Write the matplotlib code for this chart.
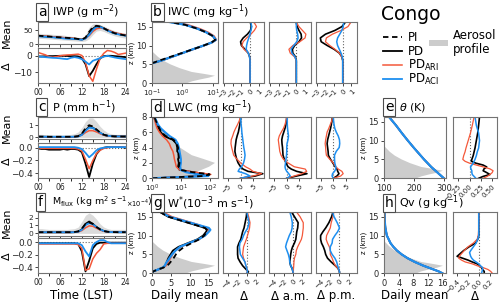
import numpy as np
import matplotlib.pyplot as plt
import matplotlib.transforms as mtransforms
from matplotlib.patches import Polygon, Rectangle
from matplotlib.lines import Line2D

# ---------------- data ----------------
hours = np.arange(25)

# IWP (g m-2)
iwp_lo = [22, 21, 20, 19, 18, 17, 16, 15, 14, 13, 12, 11, 10, 12, 20, 35, 48, 50, 46, 40, 35, 30, 27, 24, 22]
iwp_hi = [40, 39, 38, 37, 36, 35, 34, 33, 31, 29, 27, 25, 23, 35, 62, 74, 75, 72, 66, 60, 54, 49, 45, 42, 40]
iwp_pi = [31, 30, 29, 28, 27, 26, 25, 24, 23, 22, 21, 19, 17, 24, 45, 62, 67, 64, 58, 51, 45, 40, 37, 34, 32]
iwp_pd = [30, 29, 28, 27, 26, 25, 24, 23, 22, 21, 20, 19, 17, 22, 38, 56, 66, 64, 58, 51, 45, 40, 37, 34, 32]
iwp_ari = [32, 30, 29, 28, 27, 26, 25, 24, 23, 22, 21, 19, 17, 21, 31, 46, 56, 59, 57, 52, 47, 42, 39, 36, 34]
iwp_aci = [29, 28, 27, 26, 25, 24, 23, 21, 20, 20, 19, 18, 16, 21, 34, 52, 63, 63, 57, 50, 44, 39, 36, 33, 31]
d_iwp_pd = [-0.4, -0.4, -0.3, -0.2, -0.2, -0.1, 0, 0, -0.1, -0.2, -0.2, -0.4, -1.5, -5, -12.2, -9, -5, -1.5, -0.2, 0, 0, -0.2, -0.4, -0.6, -0.8]
d_iwp_ari = [2, 1.3, 0.6, -0.5, -0.8, -0.5, 0, 0.3, 0.5, 0.6, 0.8, 1, 0.2, -4, -12, -15.3, -8, -1.5, 1.5, 3.2, 2.8, 2, 0.8, 1.2, 1.6]
d_iwp_aci = [-0.4, -0.6, -0.8, -1, -1.2, -1.3, -1.5, -1.8, -2, -1.2, -0.8, -1.2, -2, -3.5, -5.2, -3, -2.2, -1.4, -0.5, 0, -0.5, -1, -1.4, -1.7, -2]

# P (mm h-1)
p_lo = [0] * 25
p_hi = [0.25, 0.25, 0.22, 0.2, 0.2, 0.2, 0.2, 0.2, 0.22, 0.25, 0.3, 0.45, 0.8, 1.3, 1.6, 1.6, 1.3, 0.9, 0.6, 0.4, 0.3, 0.25, 0.25, 0.25, 0.25]
p_pi = [0.06, 0.06, 0.06, 0.05, 0.05, 0.05, 0.05, 0.05, 0.05, 0.05, 0.06, 0.1, 0.3, 0.75, 1.0, 0.9, 0.65, 0.4, 0.22, 0.14, 0.1, 0.08, 0.08, 0.07, 0.07]
p_pd = [0.06, 0.05, 0.05, 0.04, 0.04, 0.04, 0.04, 0.04, 0.04, 0.04, 0.05, 0.09, 0.25, 0.6, 0.85, 0.8, 0.6, 0.37, 0.2, 0.13, 0.1, 0.08, 0.08, 0.07, 0.07]
p_ari = [0.06, 0.05, 0.05, 0.05, 0.05, 0.05, 0.05, 0.05, 0.05, 0.05, 0.05, 0.08, 0.18, 0.4, 0.55, 0.55, 0.45, 0.3, 0.18, 0.12, 0.1, 0.08, 0.08, 0.07, 0.07]
p_aci = [0.05, 0.05, 0.05, 0.05, 0.05, 0.05, 0.05, 0.05, 0.05, 0.05, 0.05, 0.07, 0.2, 0.55, 0.8, 0.78, 0.6, 0.38, 0.21, 0.14, 0.1, 0.08, 0.08, 0.07, 0.07]
d_p_pd = [-0.01, -0.02, -0.02, -0.03, -0.03, -0.03, -0.03, -0.02, -0.03, -0.02, -0.02, -0.03, -0.07, -0.25, -0.46, -0.25, -0.1, -0.03, 0, 0.01, 0.01, 0.01, 0.01, 0.01, 0]
d_p_ari = [0, -0.01, -0.01, -0.01, -0.01, -0.01, -0.01, -0.01, -0.01, -0.01, -0.01, -0.02, -0.05, -0.18, -0.33, -0.2, -0.09, -0.04, -0.01, 0, 0.01, 0.01, 0.01, 0.01, 0.01]
d_p_aci = [0.01, 0.01, 0.01, 0.01, 0.01, 0.01, 0.01, 0.01, 0.01, 0.01, 0.01, 0, -0.02, -0.08, -0.15, -0.1, -0.04, -0.01, 0, 0.01, 0.01, 0.01, 0.01, 0.01, 0.01]

# Mflux (kg m2 s-1 x10-4)
m_lo = [0] * 25
m_hi = [0.6, 0.6, 0.55, 0.5, 0.5, 0.5, 0.5, 0.5, 0.5, 0.55, 0.6, 0.8, 1.5, 2.3, 2.6, 2.3, 1.8, 1.2, 0.8, 0.6, 0.5, 0.5, 0.5, 0.5, 0.5]
m_pi = [0.15, 0.15, 0.15, 0.15, 0.15, 0.15, 0.15, 0.15, 0.15, 0.15, 0.17, 0.25, 0.6, 1.2, 1.4, 1.2, 0.8, 0.5, 0.3, 0.2, 0.17, 0.16, 0.15, 0.15, 0.15]
m_pd = [0.13, 0.13, 0.13, 0.13, 0.13, 0.13, 0.13, 0.13, 0.13, 0.13, 0.15, 0.22, 0.5, 1.2, 1.5, 1.2, 0.8, 0.5, 0.3, 0.2, 0.16, 0.15, 0.14, 0.14, 0.14]
m_ari = [0.13, 0.13, 0.13, 0.13, 0.13, 0.13, 0.13, 0.13, 0.13, 0.13, 0.14, 0.18, 0.35, 0.7, 0.95, 0.9, 0.65, 0.42, 0.27, 0.19, 0.16, 0.15, 0.14, 0.14, 0.14]
m_aci = [0.14, 0.14, 0.14, 0.14, 0.14, 0.14, 0.14, 0.14, 0.14, 0.14, 0.15, 0.2, 0.45, 1.05, 1.3, 1.15, 0.8, 0.5, 0.3, 0.2, 0.16, 0.15, 0.15, 0.15, 0.15]
d_m_pd = [-0.02, -0.02, -0.02, -0.02, -0.02, -0.02, -0.02, -0.02, -0.02, -0.02, -0.02, -0.03, -0.15, -0.47, -0.3, -0.1, -0.03, -0.01, -0.01, -0.01, -0.01, -0.01, -0.01, -0.01, -0.01]
d_m_ari = [-0.03, -0.03, -0.03, -0.03, -0.03, -0.03, -0.03, -0.03, -0.03, -0.03, -0.03, -0.04, -0.1, -0.45, -0.43, -0.27, -0.18, -0.12, -0.03, -0.02, -0.02, -0.02, -0.02, -0.02, -0.02]
d_m_aci = [-0.02, -0.02, -0.02, -0.02, -0.02, -0.02, -0.02, -0.02, -0.02, -0.02, -0.02, -0.02, -0.05, -0.15, -0.23, -0.05, 0.0, 0.03, 0.03, 0.0, -0.02, -0.02, -0.02, -0.02, -0.02]

# aerosol profile (fraction of panel width)
aer_z = [0, 0.5, 1, 1.5, 2, 2.5, 3, 4, 5, 6, 7, 8, 8.5]
aer_frac = [0.52, 0.6, 0.72, 0.86, 0.95, 0.78, 0.6, 0.42, 0.28, 0.17, 0.09, 0.03, 0]

# IWC (mg kg-1)
z_iwc = [5.3, 6, 7, 8, 9, 10, 10.8, 11.5, 12.5, 13.5, 14.5, 15.5, 16.2]
iwc_pi = [0.1, 0.17, 0.4, 0.95, 2.2, 5, 9, 12, 10, 6, 3, 1.2, 0.4]
iwc_pd = [0.1, 0.2, 0.45, 1.0, 2.2, 5, 9, 12, 10, 6, 3, 1.2, 0.4]
iwc_ari = [0.1, 0.2, 0.45, 1.0, 2.3, 5.2, 9.5, 13, 11, 7, 3.6, 1.5, 0.5]
iwc_aci = [0.1, 0.2, 0.45, 1.0, 2.2, 5, 9.2, 12.5, 10, 6, 3, 1.2, 0.38]
zd_iwc = [0, 5, 6, 7, 8, 9, 10, 11, 12, 13, 14, 15, 16, 16.3]
d_iwc_pd = [0, 0, 0, -0.05, -0.2, -0.6, -1.0, -1.1, -0.8, -0.3, 0.05, 0.15, 0.05, 0]
d_iwc_ari = [0, 0, 0, -0.05, -0.2, -0.7, -0.95, -0.8, -0.4, 0.1, 0.5, 0.75, 0.5, 0.1]
d_iwc_aci = [0, 0, 0, -0.05, -0.2, -0.45, -0.4, -0.3, -0.15, 0, 0.1, 0.2, 0.1, 0]
am_iwc_pd = [0, 0, 0, -0.1, -0.4, -0.45, -0.2, 0.3, 0.6, 0.55, 0.3, 0.1, 0, 0]
am_iwc_ari = [0, 0, 0, -0.2, -0.7, -0.85, -0.4, 0.4, 1.0, 1.1, 0.7, 0.3, 0.05, 0]
am_iwc_aci = [0, 0, 0, -0.15, -0.5, -0.6, -0.3, 0.05, 0.2, 0.15, 0.05, 0, 0, 0]
pm_iwc_pd = [0, 0, 0, -0.1, -0.4, -1.0, -1.8, -2.5, -2.6, -2.0, -0.9, -0.1, 0.25, 0.1]
pm_iwc_ari = [0, 0, 0, -0.1, -0.4, -0.9, -1.5, -2.0, -1.9, -1.2, -0.2, 0.6, 0.9, 0.4]
pm_iwc_aci = [0, 0, 0, -0.05, -0.2, -0.4, -0.6, -0.7, -0.6, -0.35, -0.1, 0.05, 0.1, 0]

# LWC (mg kg-1)
z_lwc = [0, 0.3, 0.5, 0.8, 1.1, 1.5, 2, 2.5, 3, 3.5, 4, 4.5, 5, 5.5, 6, 6.5, 7, 7.5, 8]
lwc_pi = [1, 60, 100, 25, 9.5, 8.5, 9, 8.5, 8.3, 8, 8, 7.2, 5.6, 3, 2.1, 1.8, 1.55, 1.35, 1.2]
lwc_pd = [1, 60, 100, 25, 9, 8, 8.5, 8, 9.5, 7.5, 7.5, 7, 5.2, 2.6, 2.0, 1.7, 1.5, 1.3, 1.15]
lwc_ari = [1, 50, 110, 30, 9, 7, 6.5, 6, 5.7, 5.3, 4.5, 4.0, 3.2, 2.3, 1.8, 1.5, 1.35, 1.25, 1.15]
lwc_aci = [1, 90, 40, 15, 10, 9.5, 10, 10, 9.5, 9, 8.5, 7.8, 6.5, 4, 2.8, 2.0, 1.6, 1.4, 1.2]
zd_lwc = [0, 0.3, 0.6, 0.9, 1.2, 1.5, 2, 2.5, 3, 3.5, 4, 4.5, 5, 5.5, 6, 6.5, 7, 7.5, 8]
d_lwc_pd = [0, 6, 9, 3, 1, 0, -1, -1.6, -2.0, -2.3, -2.2, -2.0, -1.8, -1.4, -0.9, -0.6, -0.3, -0.1, 0]
d_lwc_ari = [0, 5, 8.5, 5, 3.8, 2, 0, -1.5, -2.8, -3.2, -3.6, -3.9, -3.8, -3.2, -2.7, -2, -1.2, -0.5, 0]
d_lwc_aci = [0, 3.8, 2, -1, -0.5, 0.4, 1.2, 1.6, 1.8, 1.6, 1.3, 1.1, 0.9, 0.7, 0.5, 0.4, 0.2, 0.1, 0]
am_lwc_pd = [0, 4, 8.1, 4, 1.8, 0.5, -0.3, -1.0, -1.5, -1.6, -1.7, -1.9, -2.0, -1.7, -1.2, -0.7, -0.3, -0.1, 0]
am_lwc_ari = [0, 3, 6, 8, 7.4, 3, 0.5, -1.4, -2.3, -2.8, -3, -3.2, -3.4, -3, -2.2, -1.3, -0.7, -0.3, 0]
am_lwc_aci = [0, 1.4, 0.8, 0, -0.5, -0.7, -0.5, -0.3, -0.1, 0, 0, 0.1, 0.5, 0.7, 0.5, 0.3, 0.2, 0.2, 0.2]
pm_lwc_pd = [0, 1.5, 2.3, 1.8, 1.5, 0.8, -0.2, -1.2, -2.0, -2.1, -2.3, -2.5, -2.3, -1.9, -1.5, -1.1, -0.8, -0.5, -0.4]
pm_lwc_ari = [0, 3, 4, 3.5, 2, 1, 0, -1.5, -2.8, -3, -3.1, -3.3, -3.1, -2.8, -2.5, -1.8, -1.2, -0.6, -0.3]
pm_lwc_aci = [0, -0.5, -0.3, 0.5, 1, 1, 0.6, 0.5, 0.5, 1.2, 2.4, 2.6, 2.5, 2.0, 1.2, 0.6, 0.3, 0.1, 0]

# W* (1e-3 m s-1)
z_w = [0, 0.5, 1, 1.5, 2, 2.5, 3, 3.5, 4, 5, 6, 7, 8, 9, 10, 11, 11.5, 12, 13, 14, 15, 16, 16.5]
w_pi = [0, 0.3, 1.6, 3.0, 4.0, 4.5, 4.9, 5.3, 5.7, 6.3, 7.2, 8.5, 10.5, 12.5, 13.8, 14.4, 14.5, 14, 10.8, 7.5, 4.2, 2.5, 1.7]
w_pd = [0, 0.3, 1.6, 2.8, 3.5, 3.7, 3.9, 4.1, 4.3, 4.9, 5.5, 7, 9.5, 12, 13.5, 14.3, 14.5, 14, 10.8, 7.5, 4.2, 2.5, 1.7]
w_ari = [0, 0.3, 1.7, 3.0, 3.7, 4.0, 4.3, 4.6, 4.9, 5.4, 6.2, 7.6, 10, 12.5, 14, 14.8, 15, 14.6, 11.8, 8.5, 5.2, 3.3, 2.3]
w_aci = [0, 0.3, 1.6, 2.8, 3.4, 3.6, 3.9, 4.3, 4.6, 5.3, 6.2, 7.4, 9.8, 12.3, 14, 15, 15.4, 15, 11.5, 8, 4.5, 2.8, 1.8]
zd_w = [0, 0.4, 1.3, 2, 3, 4, 5, 6, 7, 8, 9, 10, 11, 12, 13.4, 15, 16.3]
d_w_pd = [0, 0.36, -0.36, -0.9, -1.45, -1.9, -2, -2, -2, -1.7, -1.3, -1.1, -0.9, -0.6, -0.36, -0.1, 0]
d_w_ari = [0, 0.1, 0, -0.2, -0.4, -0.7, -0.9, -0.8, -0.7, -0.4, -0.1, 0.15, 0.4, 0.6, 0.7, 0.4, 0.1]
d_w_aci = [0, 0.15, 0, -0.2, -0.4, -0.9, -1.4, -1.5, -1.6, -1.5, -1.0, -0.7, -0.3, 0.2, 0.5, 0.2, 0]
am_w_pd = [0, 0, -0.2, -0.5, -0.7, -0.6, -0.5, -0.36, -0.1, 0.3, 0.6, 0.7, 0.8, 1.0, 1.1, 0.3, -0.36]
am_w_ari = [0, 0, 0.1, 0.15, 0.2, 0.3, 0.6, 0.7, 1.0, 1.4, 1.8, 2.0, 2.1, 2.2, 2.2, 1.5, 0.7]
am_w_aci = [0, 0, -0.2, -0.5, -0.7, -0.8, -1.0, -1.3, -1.6, -1.4, -1.1, -0.8, -0.4, -0.2, -0.15, -0.4, -0.7]
pm_w_pd = [0, 0, -0.3, -0.9, -1.8, -2.6, -3.0, -3.2, -3.5, -3.9, -4.1, -4.1, -3.6, -3.0, -2.3, -1.7, -1.4]
pm_w_ari = [0, 0, -0.3, -0.9, -1.3, -1.6, -2.0, -2.0, -2.2, -2.6, -2.9, -2.8, -2.4, -2.0, -1.8, -1.4, -1.2]
pm_w_aci = [0, 0, -0.2, -0.4, -0.6, -1.0, -1.6, -2.0, -2.0, -1.6, -1.5, -1.0, -0.4, 0, -0.5, -1.2, -1.5]

# theta (K)
z_th = [0, 1, 2, 3, 4, 5, 6, 8, 10, 12, 14, 16.5]
th_pd = [298, 284, 270, 256, 244, 232, 221, 199, 178, 158, 139, 113]
zd_th = [0, 0.5, 1, 1.5, 2, 2.5, 3, 3.5, 4, 4.5, 5, 6, 7, 8, 10, 12, 14, 16.3]
d_th_pd = [0.2, 0.3, 0.45, 0.38, 0.3, 0.32, 0.38, 0.3, 0.14, 0.04, 0.05, 0.08, 0.1, 0.12, 0.15, 0.18, 0.2, 0.22]
d_th_ari = [0.3, 0.39, 0.45, 0.5, 0.52, 0.45, 0.31, 0.15, 0.0, -0.1, -0.15, -0.13, -0.1, -0.08, -0.03, 0.02, 0.06, 0.1]
d_th_aci = [0.14, 0.1, 0.06, 0.05, 0.05, 0.03, 0.02, 0.05, 0.08, 0.1, 0.12, 0.15, 0.17, 0.2, 0.22, 0.2, 0.15, 0.12]

# Qv (g kg-1)
z_q = [0, 0.5, 1, 1.5, 2, 2.5, 3, 4, 5, 6, 7, 8, 10, 12, 14, 16.5]
q_pd = [16, 15, 13.6, 12.2, 10.8, 9.6, 8.4, 6.4, 4.8, 3.5, 2.5, 1.7, 0.7, 0.3, 0.1, 0.05]
zd_q = [0, 0.5, 1, 1.5, 2, 2.5, 3, 3.5, 4, 4.5, 5, 5.5, 6, 7, 8, 9, 10, 12, 14, 16.3]
d_q_pd = [0.1, 0.1, 0.07, 0.05, 0.02, -0.03, -0.12, -0.2, -0.3, -0.4, -0.36, -0.32, -0.28, -0.18, -0.06, -0.02, 0, 0, 0, 0]
d_q_ari = [0.25, 0.22, 0.17, 0.08, -0.03, -0.12, -0.25, -0.32, -0.37, -0.36, -0.33, -0.3, -0.27, -0.2, -0.1, -0.03, -0.01, 0, 0, 0]
d_q_aci = [0.05, 0.06, 0.07, 0.07, 0.03, 0, -0.05, -0.1, -0.13, -0.15, -0.16, -0.17, -0.15, -0.1, -0.05, -0.02, 0, 0, 0, 0]

# ---------------- figure ----------------
W, H = 500, 305
fig = plt.figure(figsize=(5, 3.05), dpi=100)
red = '#f4583a'
blue = '#1e8ff0'
spc = '0.45'


def box(x0, y0, x1, y1):
    ax = fig.add_axes([x0 / W, 1 - y1 / H, (x1 - x0) / W, (y1 - y0) / H])
    for s in ax.spines.values():
        s.set_color(spc)
    ax.tick_params(length=2.5, width=0.6, pad=1.5, colors='0.15')
    return ax


def label(x, y, letter, title, size=8):
    fig.text(x / W, 1 - y / H, letter, fontsize=10, va='center', ha='left',
             bbox=dict(boxstyle='square,pad=0.12', fc='white', ec='0.3', lw=0.8))
    fig.text((x + 14) / W, 1 - y / H, title, fontsize=size, va='center', ha='left')


def time_row(top, lo, hi, pi, pd, ari, aci, dpd, dari, daci, mlim, mticks, dlim, dticks, dfmt=None, mh=22.5):
    ax = box(38, top, 125.7, top + mh)
    ax.fill_between(hours, lo, hi, color='0.86', lw=0)
    ax.plot(hours, pd, color='k', lw=1.3)
    ax.plot(hours, ari, color=red, lw=1.1)
    ax.plot(hours, aci, color=blue, lw=1.3)
    ax.plot(hours, pi, color='k', lw=1.3, ls=(0, (3, 2)))
    ax.set_xlim(0, 24)
    ax.set_ylim(*mlim)
    ax.set_yticks(mticks)
    ax.set_xticks([0, 6, 12, 18, 24])
    ax.set_xticks([3, 9, 15, 21], minor=True)
    ax.tick_params(axis='x', which='both', labelbottom=False, length=2)
    ax.tick_params(axis='y', labelsize=5.4, pad=1)
    ax2 = box(38, top + 26.6, 125.7, top + 61.6)
    ax2.axhline(0, color='0.4', ls=':', lw=0.8)
    ax2.plot(hours, dpd, color='k', lw=1.3)
    ax2.plot(hours, dari, color=red, lw=1.1)
    ax2.plot(hours, daci, color=blue, lw=1.3)
    ax2.set_xlim(0, 24)
    ax2.set_ylim(*dlim)
    ax2.set_yticks(dticks)
    if dfmt:
        ax2.set_yticklabels(dfmt)
    ax2.set_xticks([0, 6, 12, 18, 24])
    ax2.set_xticklabels(['00', '06', '12', '18', '24'])
    ax2.set_xticks([3, 9, 15, 21], minor=True)
    ax2.tick_params(axis='x', which='both', labelsize=5.5, length=2)
    ax2.tick_params(axis='y', labelsize=6.5)
    fig.text(7 / W, 1 - (top + 11) / H, 'Mean', rotation=90, fontsize=8, va='center', ha='center')
    fig.text(7 / W, 1 - (top + 44) / H, 'Δ', rotation=90, fontsize=8, va='center', ha='center')
    return ax2


def aerosol(ax):
    trans = mtransforms.blended_transform_factory(ax.transAxes, ax.transData)
    verts = np.column_stack([aer_frac + [0] * len(aer_z), aer_z + aer_z[::-1]])
    ax.add_patch(Polygon(verts, closed=True, transform=trans, fc='0.8', ec='none', zorder=0))


def mean_prof(x0, x1, top, z, pi, pd, ari, aci, xlim, ylim, yticks, log=False, xticks=None):
    ax = box(x0, top, x1, top + 61.6)
    if log:
        ax.set_xscale('log')
    aerosol(ax)
    ax.plot(pd, z, color='k', lw=1.3)
    ax.plot(ari, z, color=red, lw=1.1)
    ax.plot(aci, z, color=blue, lw=1.6)
    if pi is not None:
        ax.plot(pi, z, color='k', lw=1.3, ls=(0, (3, 2)))
    ax.set_xlim(*xlim)
    ax.set_ylim(*ylim)
    ax.set_yticks(yticks)
    if xticks is not None:
        ax.set_xticks(xticks)
    ax.minorticks_off()
    ax.tick_params(labelsize=6)
    if log:
        ax.tick_params(axis='x', labelsize=5.3, pad=1)
    ax.set_ylabel('z (km)', fontsize=5, labelpad=1)
    return ax


def delta_prof(x0, x1, top, z, dpd, dari, daci, xlim, xticks, ylim, xlabels=None):
    ax = box(x0, top, x1, top + 61.6)
    ax.axvline(0, color='0.4', ls=':', lw=0.8)
    ax.plot(dpd, z, color='k', lw=1.2)
    ax.plot(dari, z, color=red, lw=0.9)
    ax.plot(daci, z, color=blue, lw=1.1)
    ax.set_xlim(*xlim)
    ax.set_ylim(*ylim)
    ax.set_xticks(xticks)
    if xlabels:
        ax.set_xticklabels(xlabels)
    ax.set_yticks([])
    ax.tick_params(axis='x', labelsize=5, pad=1)
    for t in ax.get_xticklabels():
        t.set_rotation(45)
        t.set_ha('right')
        t.set_rotation_mode('anchor')
    return ax


cols = [(223.3, 264.3), (269.3, 310.7), (316, 357)]
rows = [21.7, 116.7, 211.7]

# time series column
time_row(rows[0], iwp_lo, iwp_hi, iwp_pi, iwp_pd, iwp_ari, iwp_aci, d_iwp_pd, d_iwp_ari, d_iwp_aci,
         (0, 82), [0, 50], (-16.5, 4.5), [-10, 0])
label(38, 12, 'a', r'IWP (g m$^{-2}$)')
time_row(rows[1], p_lo, p_hi, p_pi, p_pd, p_ari, p_aci, d_p_pd, d_p_ari, d_p_aci,
         (-0.15, 1.7), [0, 1], (-0.48, 0.07), [-0.4, -0.2, 0.0], ['−0.4', '−0.2', '0.0'])
label(38, 107, 'c', r'P (mm h$^{-1}$)')
time_row(rows[2], m_lo, m_hi, m_pi, m_pd, m_ari, m_aci, d_m_pd, d_m_ari, d_m_aci,
         (-0.3, 2.75), [0, 1, 2], (-0.5, 0.06), [-0.4, -0.2, 0.0], ['−0.4', '−0.2', '0.0'], mh=24)
label(38, 202, 'f', r'M$_{\rm flux}$ (kg m$^2$ s$^{-1}$$_{\times 10^{-4}}$)', size=6.8)

# IWC
mean_prof(152, 218.3, rows[0], z_iwc, iwc_pi, iwc_pd, iwc_ari, iwc_aci, (0.1, 15), (0, 16.3), [0, 5, 10, 15],
          log=True, xticks=[0.1, 1, 10])
label(153, 12, 'b', r'IWC (mg kg$^{-1}$)')
iwc_sets = [(d_iwc_pd, d_iwc_ari, d_iwc_aci), (am_iwc_pd, am_iwc_ari, am_iwc_aci), (pm_iwc_pd, pm_iwc_ari, pm_iwc_aci)]
for (x0, x1), s in zip(cols, iwc_sets):
    delta_prof(x0, x1, rows[0], zd_iwc, *s, (-3.1, 1.65), [-3, -2, -1, 0, 1], (0, 16.3),
               ['−3', '−2', '−1', '0', '1'])

# LWC
mean_prof(152, 218.3, rows[1], z_lwc, lwc_pi, lwc_pd, lwc_ari, lwc_aci, (1, 200), (0, 8), [0, 2, 4, 6, 8],
          log=True, xticks=[1, 10, 100])
label(153, 108, 'd', r'LWC (mg kg$^{-1}$)')
lwc_sets = [(d_lwc_pd, d_lwc_ari, d_lwc_aci), (am_lwc_pd, am_lwc_ari, am_lwc_aci), (pm_lwc_pd, pm_lwc_ari, pm_lwc_aci)]
for (x0, x1), s in zip(cols, lwc_sets):
    delta_prof(x0, x1, rows[1], zd_lwc, *s, (-7, 9.6), [-5, 0, 5], (0, 8), ['−5', '0', '5'])

# W*
mean_prof(152, 218.3, rows[2], z_w, w_pi, w_pd, w_ari, w_aci, (0, 17.5), (0, 16.3), [0, 5, 10, 15],
          xticks=[0, 5, 10, 15])
label(153, 203, 'g', r'W$^{*}$(10$^{-3}$ m s$^{-1}$)')
w_sets = [(d_w_pd, d_w_ari, d_w_aci), (am_w_pd, am_w_ari, am_w_aci), (pm_w_pd, pm_w_ari, pm_w_aci)]
for (x0, x1), s in zip(cols, w_sets):
    delta_prof(x0, x1, rows[2], zd_w, *s, (-5.1, 3.8), [-4, -2, 0, 2], (0, 16.3), ['−4', '−2', '0', '2'])

# theta
mean_prof(384.3, 446, rows[1], z_th, None, th_pd, th_pd, th_pd, (100, 305), (0, 16.3), [0, 5, 10, 15],
          xticks=[100, 200, 300])
label(385, 107, 'e', r'$\theta$ (K)')
delta_prof(453.3, 496.7, rows[1], zd_th, d_th_pd, d_th_ari, d_th_aci, (-0.36, 0.6), [-0.25, 0, 0.25, 0.5],
           (0, 16.3), ['−0.25', '0.00', '0.25', '0.50'])

# Qv
mean_prof(384.3, 446, rows[2], z_q, None, q_pd, q_pd, q_pd, (0, 17), (0, 16.3), [0, 5, 10, 15],
          xticks=[0, 4, 8, 12, 16])
label(385, 203, 'h', r'Qv (g kg$^{-1}$)')
delta_prof(453.3, 496.7, rows[2], zd_q, d_q_pd, d_q_ari, d_q_aci, (-0.47, 0.33), [-0.4, -0.2, 0, 0.2],
           (0, 16.3), ['−0.4', '−0.2', '0.0', '0.2'])

# bottom labels
for x, t in [(82, 'Time (LST)'), (185, 'Daily mean'), (244, 'Δ'), (290, 'Δ a.m.'), (336.5, 'Δ p.m.'),
             (415, 'Daily mean'), (475, 'Δ')]:
    fig.text(x / W, 1 - 296 / H, t, fontsize=8.5, ha='center', va='center')

# legend
fig.text(381 / W, 1 - 15 / H, 'Congo', fontsize=13.5, va='center', ha='left')
leg = [('PI', 'k', (0, (3, 2)), 1.3), ('PD', 'k', '-', 1.3),
       (r'PD$_{\rm ARI}$', red, '-', 1.1), (r'PD$_{\rm ACI}$', blue, '-', 1.3)]
for i, (t, c, ls, lw) in enumerate(leg):
    y = 1 - (37.3 + 14 * i) / H
    fig.add_artist(Line2D([383 / W, 402 / W], [y, y], color=c, ls=ls, lw=lw))
    fig.text(407.5 / W, y, t, fontsize=8.5, va='center', ha='left')
fig.add_artist(Rectangle((429 / W, 1 - 46 / H), 19 / W, 6 / H, fc='0.8', ec='none'))
fig.text(453 / W, 1 - 42.5 / H, 'Aerosol\nprofile', fontsize=8.5, va='center', ha='left', linespacing=1.1)

fig.savefig('out.png', dpi=100)
